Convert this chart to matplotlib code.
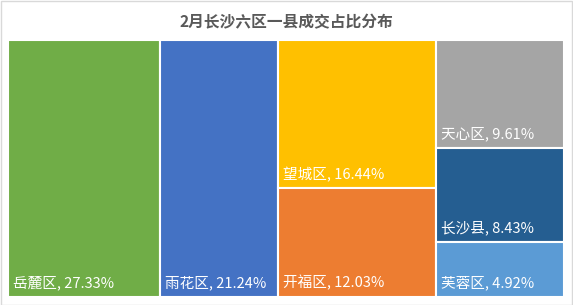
import matplotlib.pyplot as plt
from matplotlib.patches import Rectangle

plt.rcParams['font.family'] = ['Noto Sans CJK SC', 'DejaVu Sans']

# 各区成交占比（%）
names = ['岳麓区', '雨花区', '望城区', '开福区', '天心区', '长沙县', '芙蓉区']
shares = [27.33, 21.24, 16.44, 12.03, 9.61, 8.43, 4.92]
colors = ['#70AD47', '#4472C4', '#FFC000', '#ED7D31', '#A5A5A5', '#255E91', '#5B9BD5']
# 每一列放哪几个区（按索引）
columns = [[0], [1], [2, 3], [4, 5, 6]]

W, H = 573, 305
fig = plt.figure(figsize=(W / 100, H / 100), dpi=100)
fig.patches.append(Rectangle((0.5 / W, 0.5 / H), 1 - 1.5 / W, 1 - 1.5 / H,
                             transform=fig.transFigure, fill=False,
                             edgecolor='#D9D9D9', linewidth=1))

left, right, top, bottom = 8, 564, 40, 297
ax = fig.add_axes([left / W, 1 - bottom / H, (right - left) / W, (bottom - top) / H])
total = sum(shares)
ax.set_xlim(0, total)
ax.set_ylim(0, 1)
ax.axis('off')

x = 0
for col in columns:
    colsum = sum(shares[i] for i in col)
    y = 1.0
    for i in col:
        h = shares[i] / colsum
        y -= h
        ax.add_patch(Rectangle((x, y), colsum, h, facecolor=colors[i],
                               edgecolor='white', linewidth=1.5))
        ax.annotate(f'{names[i]}, {shares[i]:.2f}%', xy=(x, y), xytext=(3.5, 4.5),
                    textcoords='offset points', color='white', fontsize=10.5,
                    ha='left', va='bottom')
    x += colsum

fig.text(0.5, 1 - 22 / H, '2月长沙六区一县成交占比分布', ha='center', va='center',
         fontsize=11.3, fontweight='bold', color='#595959')

fig.savefig('out.png', dpi=100)
